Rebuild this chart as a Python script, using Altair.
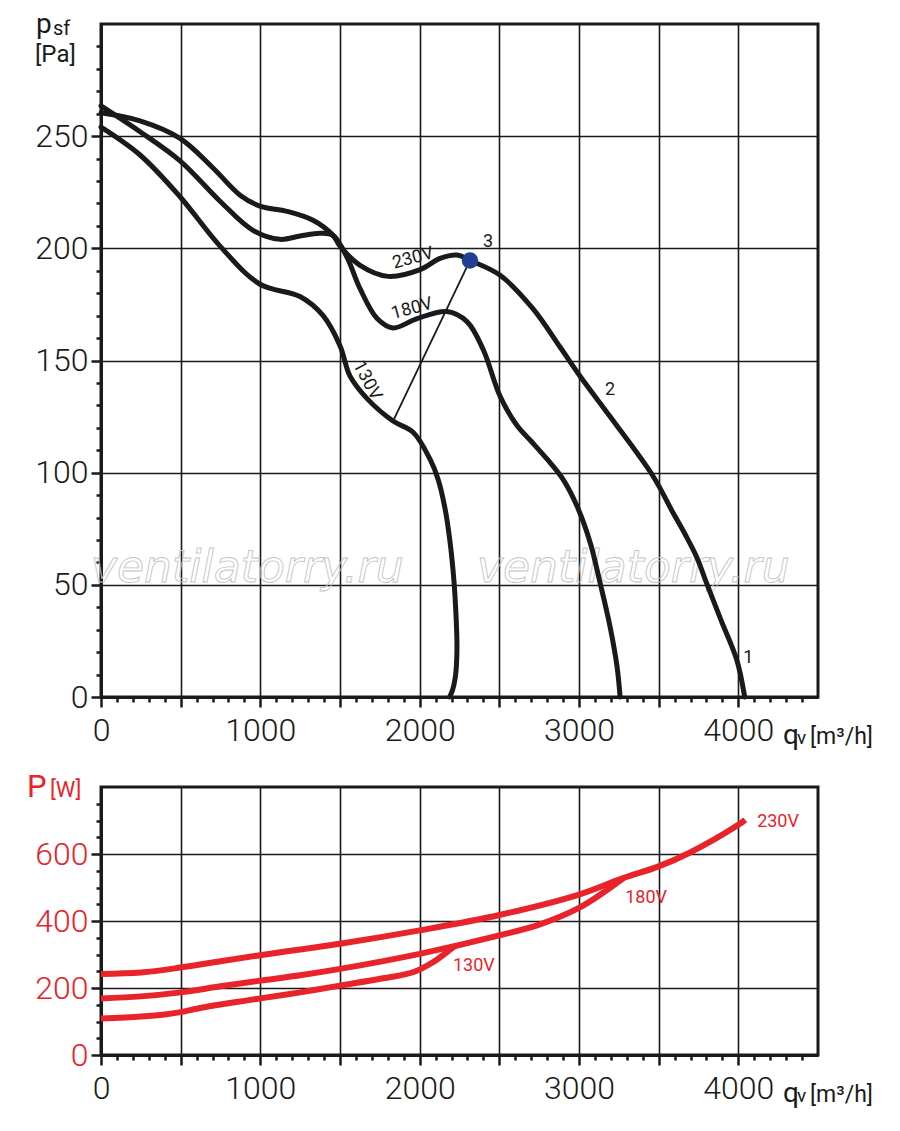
import altair as alt
import pandas as pd

FONT = "Roboto"
RED = "#e8232a"
INK = "#1a1a1a"

# ---- top chart: static pressure curves (q in m3/h, p in Pa) ----
q230 = [0, 245, 496, 703, 873, 998, 1168, 1331, 1456, 1500, 1626, 1802, 2003, 2128, 2235, 2316,
        2505, 2712, 2881, 3007, 3195, 3465, 3591, 3670, 3741, 3802, 3890, 3990, 4040]
p230 = [260.4, 256.8, 249, 235.8, 223.7, 218.8, 216.5, 212.5, 205.8, 201, 192.4, 187.5, 190.5, 195.5, 197, 194.6,
        188, 173, 156, 143, 125, 98.4, 82, 72, 62, 50.5, 34.5, 16.6, 0]

q180 = [0, 245, 496, 747, 954, 1124, 1250, 1375, 1456, 1544, 1626, 1733, 1833, 1984, 2172, 2297,
        2398, 2505, 2611, 2700, 2800, 2900, 2988, 3070, 3132, 3195, 3239, 3258]
p180 = [263.5, 252, 239, 221, 208, 204, 205.5, 206.7, 205.8, 196, 182, 168.7, 164.5, 168.7, 171.8, 167.3,
        155, 134, 121, 114, 106, 97, 85, 68.9, 51, 31.3, 13.4, 0]

q130 = [0, 245, 496, 747, 998, 1249, 1394, 1500, 1563, 1670, 1833, 1959, 2065, 2116, 2160, 2191,
        2216, 2229, 2234, 2232, 2224, 2206, 2188]
p130 = [254, 241.6, 223, 201, 184, 178.5, 170, 156.6, 143, 133, 123, 118, 106, 97, 83.7, 68.9,
        51, 35, 24, 16, 9, 3, 0]

dot_q = [2316]
dot_p = [194.6]
link_q = [1833, 2316]
link_p = [123, 194.6]

top_lab_text = ["230V", "180V", "130V", "1", "2", "3"]
top_lab_q = [1959, 1952, 1670, 4062, 3195, 2429]
top_lab_p = [195.5, 173, 141, 17.4, 137, 202.7]
top_lab_angle = [345, 345, 62, 0, 0, 0]

# ---- bottom chart: power curves (P in W) ----
qb230 = [0, 250, 500, 750, 1000, 1250, 1500, 2000, 2500, 3000, 3277, 3500, 3691, 4000, 4043]
pb230 = [242, 246, 261, 280, 298, 315, 332, 372, 418, 479, 528, 563, 603, 687, 702]
qb180 = [0, 250, 500, 750, 1000, 1250, 1500, 2000, 2500, 2755, 3000, 3151, 3277]
pb180 = [169, 175, 187, 205, 222, 238, 257, 302, 357, 390, 439, 484, 527]
qb130 = [0, 250, 400, 500, 600, 700, 850, 1000, 1250, 1500, 1770, 1958, 2083, 2198, 2225]
pb130 = [109, 115, 121, 128, 138, 147, 158, 169, 187, 207, 229, 247, 277, 317, 326]

bot_lab_text = ["230V", "180V", "130V"]
bot_lab_q = [4118, 3290, 2209]
bot_lab_p = [696, 468, 265]

x_ticks = list(range(0, 4401, 100))
y_top_ticks = list(range(0, 291, 10))
y_bot_ticks = list(range(0, 751, 50))


def curves(series):
    rows = []
    for name, qs, ps in series:
        for i, (q, p) in enumerate(zip(qs, ps)):
            rows.append({"s": name, "i": i, "q": q, "p": p})
    return pd.DataFrame(rows)


def cond(test, a, b):
    return {"condition": {"test": test, "value": a}, "value": b}


def x_enc():
    return alt.X("q:Q", scale=alt.Scale(domain=[0, 4500], nice=False, zero=False),
                 axis=alt.Axis(values=x_ticks, format="d",
                               labelExpr="datum.value % 1000 === 0 ? datum.label : ''",
                               tickSize=cond("datum.value % 500 === 0", 10, 5),
                               tickWidth=2.5, tickColor=INK, domainColor=INK, domainWidth=3,
                               grid=True, gridColor=INK, gridWidth=1.6,
                               gridOpacity=cond("datum.value % 500 === 0 && datum.value > 0", 1, 0),
                               labelFont=FONT, labelFontSize=32, labelFontWeight=300, labelColor=INK,
                               labelPadding=8, labelFlush=False, labelOverlap=False, title=None))


def y_enc(domain, ticks, major, label_color):
    return alt.Y("p:Q", scale=alt.Scale(domain=domain, nice=False, zero=False),
                 axis=alt.Axis(values=ticks, format="d",
                               labelExpr=f"datum.value % {major} === 0 ? datum.label : ''",
                               tickSize=cond(f"datum.value % {major} === 0", 10, 5),
                               tickWidth=2.5, tickColor=INK, domainColor=INK, domainWidth=3,
                               grid=True, gridColor=INK, gridWidth=1.6,
                               gridOpacity=cond(f"datum.value % {major} === 0 && datum.value > 0", 1, 0),
                               labelFont=FONT, labelFontSize=32, labelFontWeight=300, labelColor=label_color,
                               labelPadding=3, labelOverlap=False, title=None))


def note(txt, x, y, size, color=INK, **kw):
    return alt.Chart(pd.DataFrame({"t": [txt]})).mark_text(
        align="left", baseline="alphabetic", fontSize=size, font=FONT, color=color, **kw
    ).encode(x=alt.value(x), y=alt.value(y), text="t:N")


def unit_q(h):
    return [note("q", 682, h + 47, 28), note("v", 696, h + 47, 19), note("[m³/h]", 709, h + 47, 23)]


W = 717
H_TOP = 673
H_BOT = 268

# ---------- top panel ----------
top_df = curves([("230V", q230, p230), ("180V", q180, p180), ("130V", q130, p130)])
yt = lambda: y_enc([0, 300], y_top_ticks, 50, INK)

watermark = [
    alt.Chart(pd.DataFrame({"t": ["ventilatorry.ru"]})).mark_text(
        align="left", baseline="alphabetic", fontSize=44, font="DejaVu Sans", fontStyle="italic",
        fill="white", fillOpacity=0, stroke="#c4c4c4", strokeWidth=0.9
    ).encode(x=alt.value(xv), y=alt.value(558), text="t:N")
    for xv in (-10, 376)
]

top_lines = alt.Chart(top_df).mark_line(strokeWidth=5, color=INK, interpolate="catmull-rom",
                                        strokeCap="round").encode(
    x=x_enc(), y=yt(), detail="s:N", order="i:Q")

link = alt.Chart(pd.DataFrame({"q": link_q, "p": link_p})).mark_line(
    strokeWidth=1.8, color=INK).encode(x=x_enc(), y=yt())

dot = alt.Chart(pd.DataFrame({"q": dot_q, "p": dot_p})).mark_circle(
    size=270, color="#213f93", opacity=1).encode(x=x_enc(), y=yt())

top_labels = alt.Chart(pd.DataFrame({"t": top_lab_text, "q": top_lab_q, "p": top_lab_p,
                                     "a": top_lab_angle})).mark_text(
    fontSize=18, font=FONT, color=INK, align="center", baseline="middle").encode(
    x=x_enc(), y=yt(), text="t:N", angle=alt.Angle("a:Q", scale=None))

top = alt.layer(
    *watermark, top_lines, link, dot, top_labels,
    note("p", -65, 9, 28), note("sf", -48, 11, 20), note("[Pa]", -66, 38, 24),
    *unit_q(H_TOP),
).properties(width=W, height=H_TOP)

# ---------- bottom panel ----------
bot_df = curves([("230V", qb230, pb230), ("180V", qb180, pb180), ("130V", qb130, pb130)])
yb = lambda: y_enc([0, 800], y_bot_ticks, 200, RED)

bot_lines = alt.Chart(bot_df).mark_line(strokeWidth=6, color=RED, interpolate="catmull-rom").encode(
    x=x_enc(), y=yb(), detail="s:N", order="i:Q")

bot_labels = alt.Chart(pd.DataFrame({"t": bot_lab_text, "q": bot_lab_q, "p": bot_lab_p})).mark_text(
    fontSize=18, font=FONT, color=RED, align="left", baseline="middle").encode(
    x=x_enc(), y=yb(), text="t:N")

bottom = alt.layer(
    bot_lines, bot_labels,
    note("P", -74, 10, 31, RED), note("[W]", -51, 10, 22, RED),
    *unit_q(H_BOT),
).properties(width=W, height=H_BOT)

chart = alt.vconcat(top, bottom, spacing=18).properties(
    padding={"left": 17, "top": 1, "right": 5, "bottom": 5},
    background="white",
).configure_view(stroke=INK, strokeWidth=3)

chart.save("out.html", embed_options={"renderer": "svg", "actions": False})
